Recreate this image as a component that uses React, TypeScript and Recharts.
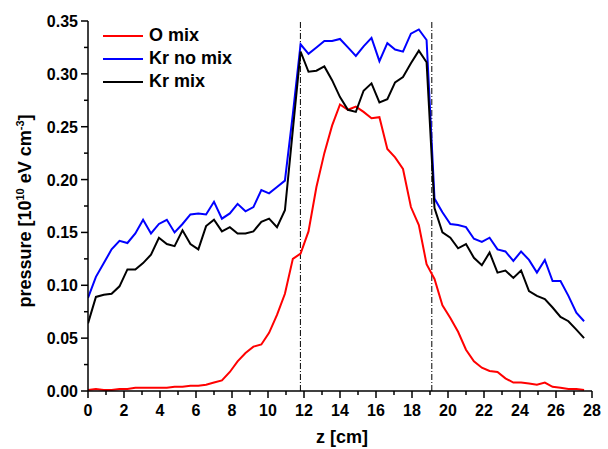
import { LineChart, Line, XAxis, YAxis, ReferenceLine, Legend, Label } from "recharts";

// z positions of the samples [cm]
const zCm = [
  0, 0.44, 0.88, 1.31, 1.75, 2.19, 2.63, 3.06, 3.5, 3.94, 4.38, 4.81, 5.25, 5.69, 6.13, 6.56,
  7, 7.44, 7.88, 8.31, 8.75, 9.19, 9.63, 10.06, 10.5, 10.94, 11.38, 11.81, 12.25, 12.69, 13.13, 13.56,
  14, 14.44, 14.88, 15.31, 15.75, 16.19, 16.63, 17.06, 17.5, 17.94, 18.38, 18.81, 19.25, 19.69, 20.13, 20.56,
  21, 21.44, 21.88, 22.31, 22.75, 23.19, 23.63, 24.06, 24.5, 24.94, 25.38, 25.81, 26.25, 26.69, 27.13, 27.56,
];

// pressure [1e10 eV cm^-3]
const oMix = [
  0.001, 0.002, 0.001, 0.001, 0.002, 0.002, 0.003, 0.003, 0.003, 0.003, 0.003, 0.004, 0.004, 0.005, 0.005, 0.006,
  0.008, 0.010, 0.018, 0.028, 0.036, 0.042, 0.044, 0.055, 0.072, 0.092, 0.125, 0.130, 0.151, 0.193, 0.225, 0.251,
  0.271, 0.266, 0.269, 0.264, 0.258, 0.259, 0.229, 0.221, 0.210, 0.174, 0.157, 0.120, 0.106, 0.081, 0.069, 0.056,
  0.039, 0.028, 0.022, 0.019, 0.018, 0.012, 0.008, 0.008, 0.007, 0.006, 0.008, 0.004, 0.003, 0.002, 0.002, 0.001,
];
const krNoMix = [
  0.088, 0.108, 0.121, 0.134, 0.142, 0.140, 0.149, 0.162, 0.149, 0.158, 0.162, 0.150, 0.158, 0.167, 0.168, 0.167,
  0.179, 0.163, 0.168, 0.177, 0.170, 0.174, 0.190, 0.187, 0.193, 0.199, 0.262, 0.328, 0.319, 0.325, 0.331, 0.331,
  0.333, 0.325, 0.317, 0.326, 0.334, 0.312, 0.329, 0.323, 0.321, 0.338, 0.342, 0.332, 0.182, 0.169, 0.158, 0.157,
  0.155, 0.144, 0.141, 0.145, 0.134, 0.132, 0.123, 0.132, 0.124, 0.112, 0.124, 0.104, 0.104, 0.090, 0.074, 0.066,
];
const krMix = [
  0.064, 0.089, 0.091, 0.092, 0.099, 0.115, 0.115, 0.121, 0.129, 0.145, 0.139, 0.137, 0.152, 0.139, 0.134, 0.156,
  0.162, 0.151, 0.155, 0.149, 0.149, 0.151, 0.160, 0.163, 0.155, 0.171, 0.247, 0.321, 0.302, 0.303, 0.307, 0.294,
  0.278, 0.266, 0.264, 0.284, 0.291, 0.273, 0.276, 0.292, 0.297, 0.310, 0.322, 0.311, 0.173, 0.150, 0.145, 0.135,
  0.139, 0.126, 0.119, 0.131, 0.112, 0.114, 0.107, 0.114, 0.0945, 0.090, 0.087, 0.079, 0.070, 0.066, 0.058, 0.050,
];

const xTicks = [0, 1, 2, 3, 4, 5, 6, 7, 8, 9, 10, 11, 12, 13, 14, 15, 16, 17, 18, 19, 20, 21, 22, 23, 24, 25, 26, 27, 28];
const yTicks = [0, 0.025, 0.05, 0.075, 0.1, 0.125, 0.15, 0.175, 0.2, 0.225, 0.25, 0.275, 0.3, 0.325, 0.35];
const cellEdges = [11.8, 19.1];

const seriesKeys = ["oMix", "krNoMix", "krMix"];
const seriesNames = ["O mix", "Kr no mix", "Kr mix"];
const seriesColors = ["#ff0000", "#0000ff", "#000000"];

const chartData = zCm.map((z, i) => ({ z, oMix: oMix[i], krNoMix: krNoMix[i], krMix: krMix[i] }));

const FONT = '"Liberation Sans", Arial, Helvetica, sans-serif';
const AXIS = { stroke: "#000", strokeWidth: 1.5 };

const BottomTick = ({ x, y, payload }: any) => {
  const major = Math.round(payload.value) % 2 === 0;
  return (
    <g>
      <line x1={x} x2={x} y1={y} y2={y + (major ? 7 : 4)} stroke="#000" strokeWidth={1.5} />
      {major && (
        <text x={x} y={y + 25} textAnchor="middle" fontFamily={FONT} fontWeight="bold" fontSize={16} fill="#000">
          {payload.value}
        </text>
      )}
    </g>
  );
};

const LeftTick = ({ x, y, payload }: any) => {
  const major = Math.round(payload.value * 1000) % 50 === 0;
  return (
    <g>
      <line x1={x} x2={x - (major ? 7 : 4)} y1={y} y2={y} stroke="#000" strokeWidth={1.5} />
      {major && (
        <text x={x - 10} y={y + 6} textAnchor="end" fontFamily={FONT} fontWeight="bold" fontSize={16} fill="#000">
          {payload.value.toFixed(2)}
        </text>
      )}
    </g>
  );
};

const TopTick = ({ x, y }: any) => <line x1={x} x2={x} y1={y} y2={y + 5} stroke="#000" strokeWidth={1.5} />;
const RightTick = ({ x, y }: any) => <line x1={x} x2={x - 5} y1={y} y2={y} stroke="#000" strokeWidth={1.5} />;

const XTitle = ({ viewBox }: any) => (
  <text x={viewBox.x + viewBox.width / 2 + 2} y={443} textAnchor="middle" fontFamily={FONT} fontWeight="bold" fontSize={18} fill="#000">
    z [cm]
  </text>
);

const YTitle = ({ viewBox }: any) => {
  const cx = 31;
  const cy = viewBox.y + viewBox.height / 2 + 5;
  return (
    <text x={cx} y={cy} transform={`rotate(-90 ${cx} ${cy})`} textAnchor="middle" fontFamily={FONT} fontWeight="bold" fontSize={18} fill="#000">
      pressure [10
      <tspan dy={-7} fontSize={11}>10</tspan>
      <tspan dy={7}> eV cm</tspan>
      <tspan dy={-7} fontSize={11}>-3</tspan>
      <tspan dy={7}>]</tspan>
    </text>
  );
};

const LegendBox = () => (
  <div style={{ fontFamily: FONT, fontWeight: "bold", fontSize: 18 }}>
    {seriesNames.map((name, i) => (
      <div key={name} style={{ display: "flex", alignItems: "center", height: 23 }}>
        <span style={{ display: "inline-block", width: 40, height: 2, background: seriesColors[i], marginRight: 6 }} />
        <span style={{ lineHeight: "23px" }}>{name}</span>
      </div>
    ))}
  </div>
);

export default function App() {
  return (
    <div style={{ position: "absolute", left: 0, top: 0, background: "#fff" }}>
      <LineChart width={608} height={449} data={chartData} margin={{ top: 21, right: 16, bottom: 0, left: 0 }}>
        <XAxis
          dataKey="z"
          type="number"
          domain={[0, 28]}
          ticks={xTicks}
          interval={0}
          allowDataOverflow
          height={58}
          axisLine={AXIS}
          tickLine={false}
          tickSize={0}
          tickMargin={0}
          tick={BottomTick}
          label={<Label content={XTitle} />}
        />
        <XAxis
          xAxisId="top"
          orientation="top"
          type="number"
          domain={[0, 28]}
          ticks={xTicks}
          interval={0}
          allowDataOverflow
          height={0}
          axisLine={AXIS}
          tickLine={false}
          tickSize={0}
          tickMargin={0}
          tick={TopTick}
        />
        <YAxis
          type="number"
          domain={[0, 0.35]}
          ticks={yTicks}
          interval={0}
          allowDataOverflow
          width={88}
          axisLine={AXIS}
          tickLine={false}
          tickSize={0}
          tickMargin={0}
          tick={LeftTick}
          label={<Label content={YTitle} />}
        />
        <YAxis
          yAxisId="right"
          orientation="right"
          type="number"
          domain={[0, 0.35]}
          ticks={yTicks}
          interval={0}
          allowDataOverflow
          width={0}
          axisLine={AXIS}
          tickLine={false}
          tickSize={0}
          tickMargin={0}
          tick={RightTick}
        />
        {cellEdges.map((x) => (
          <ReferenceLine key={x} x={x} stroke="#000" strokeWidth={1} strokeDasharray="6 2 1 2" />
        ))}
        {seriesKeys.map((key, i) => (
          <Line
            key={key}
            type="linear"
            dataKey={key}
            name={seriesNames[i]}
            stroke={seriesColors[i]}
            strokeWidth={2}
            dot={false}
            isAnimationActive={false}
          />
        ))}
        <Legend
          layout="horizontal"
          verticalAlign="middle"
          align="center"
          content={LegendBox}
          wrapperStyle={{ left: 103, top: 24, width: "auto", height: "auto" }}
        />
      </LineChart>
    </div>
  );
}
